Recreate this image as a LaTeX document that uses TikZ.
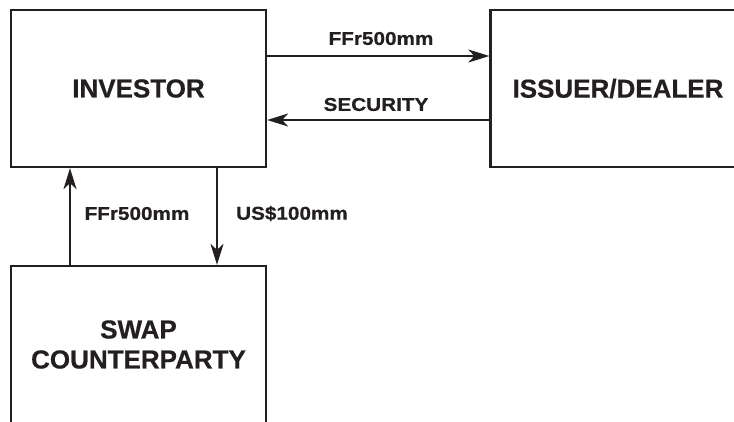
\documentclass[tikz,border=0pt]{standalone}
\usepackage{fontspec}
\setmainfont[FakeBold=0.6]{Liberation Sans}
\newfontfamily\lblfont[FakeStretch=1.12,FakeBold=0.6]{Liberation Sans}
\usetikzlibrary{arrows.meta}
\definecolor{ink}{HTML}{231F20}
\begin{document}
\begin{tikzpicture}[x=1pt,y=-1pt,
  box/.style={draw=ink, text=ink, line width=2.3pt, minimum width=255pt, minimum height=157pt,
    inner sep=0pt, font=\fontsize{26}{30}\selectfont\bfseries, align=center},
  flow/.style={draw=ink, line width=1.8pt, -{Stealth[length=21pt,width=13pt,inset=6pt]}},
  lbl/.style={text=ink, font=\lblfont\fontsize{18.5}{22}\selectfont\bfseries, inner sep=0pt}]
\useasboundingbox (0,0) rectangle (734,421);
\clip (0,0) rectangle (734,421);
\node[box] (inv) at (138.5,88.5) {INVESTOR};
\node[box] (iss) at (618,88.5) {ISSUER/DEALER};
\node[box] (swap) at (138.5,344.5) {SWAP\\COUNTERPARTY};
\draw[flow] ([yshift=32.5pt]inv.east) -- ([yshift=32.5pt]iss.west);
\draw[flow] ([yshift=-31.5pt]iss.west) -- ([yshift=-31.5pt]inv.east);
\draw[flow] ([xshift=-68.5pt]swap.north) -- ([xshift=-68.5pt]inv.south);
\draw[flow] ([xshift=78.5pt]inv.south) -- ([xshift=78.5pt]swap.north);
\node[lbl] (l1) at (381,38.5) {FFr500mm};
\node[lbl] (l2) at (376,104.5) {SECURITY};
\node[lbl] (l3) at (137,213.5) {FFr500mm};
\node[lbl] (l4) at (292,213.5) {US\$100mm};
\end{tikzpicture}
\end{document}
